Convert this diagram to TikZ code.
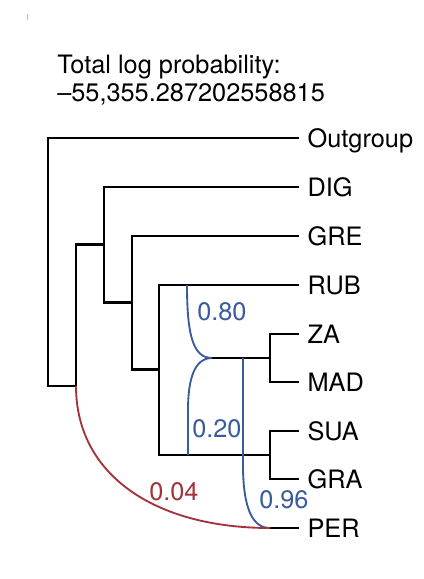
\documentclass[tikz,border=0pt]{standalone}
\usepackage{fontspec}
\setmainfont{TeX Gyre Heros}
\usepackage{xcolor}
\usetikzlibrary{calc}
\definecolor{hybblue}{HTML}{3A5C9C}
\definecolor{hybred}{HTML}{A3343B}
\tikzset{
  branch/.style={line width=1.6pt, line cap=rect},
  retiblue/.style={draw=hybblue, line width=1.4pt},
  retired/.style={draw=hybred, line width=1.4pt},
  tip/.style={anchor=west, inner xsep=7pt, inner ysep=0pt, text height=13.6pt, text depth=0pt, font=\fontsize{19}{23}\selectfont},
  headline/.style={anchor=base west, inner sep=0pt, font=\fontsize{19}{23}\selectfont},
  problabel/.style={anchor=base west, inner sep=0pt, font=\fontsize{19}{23}\selectfont}
}
\begin{document}
\begin{tikzpicture}[x=0.75pt, y=-0.75pt]
\useasboundingbox (0,0) rectangle (424,579);
% header
\draw[gray!50, line width=0.6pt] (27,14) -- (27,20);
\node[headline] (head1) at (57,73) {Total log probability:};
\node[headline] (head2) at (57,101) {–55,355.287202558815};
% tips
\foreach \n/\y/\t in {out/138/Outgroup, dig/187/DIG, gre/236/GRE, rub/285/RUB, za/334/ZA, mad/382/MAD, sua/431/SUA, gra/479/GRA, per/528/PER} {
  \node[tip] (\n) at (298,\y) {\t};
}
% internal nodes
\coordinate (c0) at (48,262);
\coordinate (c1) at (76,386);
\coordinate (c2) at (104,244.5);
\coordinate (c3) at (132,302.5);
\coordinate (c4) at (159,369.5);
\coordinate (cZM) at (270,358);
\coordinate (cSG) at (270,455);
\coordinate (cPER) at (270,528);
\coordinate (hyb) at (212,358);
\coordinate (hTop) at (187,285);
\coordinate (hBot) at (188,455);
\coordinate (hPer) at (243,358);
% tree
\draw[branch] (out.west) -| (c0) |- (c1);
\draw[branch] (dig.west) -| (c2) |- (c3);
\draw[branch] (c2) -- (c1 |- c2) -- (c1);
\draw[branch] (gre.west) -| (c3) |- (c4);
\draw[branch] (rub.west) -| (c4) |- (cSG);
\draw[branch] (za.west) -| (cZM) |- (mad.west);
\draw[branch] (sua.west) -| (cSG) |- (gra.west);
\draw[branch] (hyb) -- (cZM);
\draw[branch] (cPER) -- (per.west);
% reticulations
\draw[retiblue] (hTop) .. controls (187,335) and (193,358) .. (hyb);
\draw[retiblue] (hyb) .. controls (194,358) and (188,380) .. (188,410) -- (hBot);
\draw[retiblue] (hPer) -- (243,470) .. controls (244,512) and (254,528) .. (cPER);
\draw[retired] (c1) .. controls (76,475) and (155,528) .. (cPER);
% probabilities
\node[problabel, text=hybblue] (p80) at (197,320) {0.80};
\node[problabel, text=hybblue] (p20) at (192,437) {0.20};
\node[problabel, text=hybblue] (p96) at (259,508) {0.96};
\node[problabel, text=hybred] (p04) at (149,500) {0.04};
\end{tikzpicture}
\end{document}
